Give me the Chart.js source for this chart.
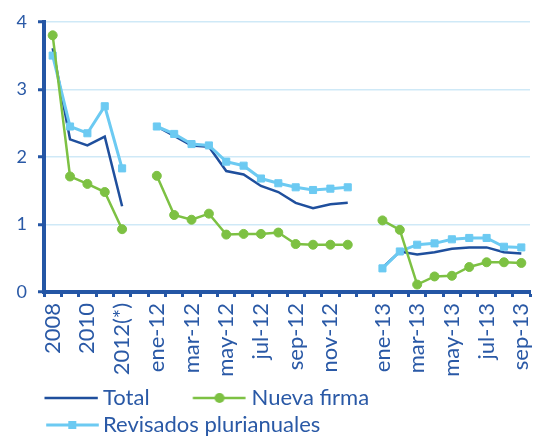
<!DOCTYPE html>
<html>
<head>
<meta charset="utf-8">
<script src="https://cdn.jsdelivr.net/npm/chart.js@4"></script>
<style>
html,body{margin:0;padding:0;background:#fff;overflow:hidden;}
canvas{display:block;}
</style>
</head>
<body>
<canvas id="chart" width="536" height="446"></canvas>
<script>
const categories = ['2008','2009','2010','2011','2012(*)','',
  'ene-12','feb-12','mar-12','abr-12','may-12','jun-12','jul-12','ago-12','sep-12','oct-12','nov-12','dic-12','',
  'ene-13','feb-13','mar-13','abr-13','may-13','jun-13','jul-13','ago-13','sep-13'];
const tickLabels = ['2008','2010','2012(*)','ene-12','mar-12','may-12','jul-12','sep-12','nov-12',
  'ene-13','mar-13','may-13','jul-13','sep-13'];
const seriesNames = ['Total','Nueva firma','Revisados plurianuales'];
const total = [3.61,2.26,2.17,2.30,1.27,null,
  2.45,2.31,2.17,2.15,1.79,1.74,1.57,1.48,1.32,1.24,1.30,1.32,null,
  0.36,0.60,0.555,0.59,0.64,0.66,0.66,0.59,0.57];
const nuevaFirma = [3.80,1.71,1.60,1.48,0.93,null,
  1.72,1.14,1.07,1.16,0.85,0.86,0.86,0.88,0.71,0.70,0.70,0.70,null,
  1.06,0.92,0.11,0.23,0.24,0.37,0.44,0.44,0.43];
const revisados = [3.50,2.45,2.35,2.75,1.83,null,
  2.45,2.34,2.19,2.17,1.93,1.87,1.68,1.61,1.55,1.51,1.53,1.55,null,
  0.35,0.60,0.70,0.72,0.78,0.80,0.80,0.67,0.66];
const yTicks = [0,1,2,3,4];

const NAVY = '#2a59a6';
const AXIS = '#2456a5';
const C_TOTAL = '#1f4f9d';
const C_NUEVA = '#7dc143';
const C_REV = '#6ccaf2';
const GRID = '#cfe9f7';

// legend sample images: line + marker
function sample(color, lw, marker, x0, x1, mx) {
  const cv = document.createElement('canvas');
  cv.width = 120; cv.height = 14;
  const g = cv.getContext('2d');
  g.strokeStyle = color; g.lineWidth = lw;
  g.beginPath(); g.moveTo(x0, 7); g.lineTo(x1, 7); g.stroke();
  g.fillStyle = color;
  if (marker === 'circle') { g.beginPath(); g.arc(mx, 7, 5, 0, Math.PI * 2); g.fill(); }
  if (marker === 'rect') { g.fillRect(mx - 4, 3, 8, 8); }
  return cv;
}
const legendImgs = [
  sample(C_TOTAL, 2.5, null, 55.5, 108.8, 0),
  sample(C_NUEVA, 2.5, 'circle', 55.2, 107.9, 81.9),
  sample(C_REV, 3, 'rect', 57.2, 109.8, 83.3)
];

const FONT = 'Lato, "Open Sans", sans-serif';

new Chart(document.getElementById('chart'), {
  type: 'line',
  data: {
    labels: categories,
    datasets: [
      { label: seriesNames[0], data: total, borderColor: C_TOTAL, backgroundColor: C_TOTAL,
        borderWidth: 2.5, pointRadius: 0, order: 3, tension: 0 },
      { label: seriesNames[1], data: nuevaFirma, borderColor: C_NUEVA, backgroundColor: C_NUEVA,
        borderWidth: 2.5, pointStyle: 'circle', pointRadius: 4.5, pointBorderWidth: 1,
        pointBackgroundColor: C_NUEVA, pointBorderColor: C_NUEVA, order: 1, tension: 0 },
      { label: seriesNames[2], data: revisados, borderColor: C_REV, backgroundColor: C_REV,
        borderWidth: 3, pointStyle: 'rect', pointRadius: 5, pointBorderWidth: 1,
        pointBackgroundColor: C_REV, pointBorderColor: C_REV, order: 2, tension: 0 }
    ]
  },
  options: {
    responsive: false,
    animation: false,
    devicePixelRatio: 1,
    layout: { padding: { top: 20, left: 1, right: 0, bottom: 0 } },
    plugins: {
      tooltip: { enabled: false },
      legend: {
        position: 'bottom',
        align: 'start',
        labels: {
          usePointStyle: true,
          pointStyleWidth: 86,
          padding: 5,
          color: NAVY,
          font: { family: FONT, size: 22 },
          generateLabels: (chart) => seriesNames.map((n, i) => ({
            text: n, fillStyle: 'transparent', strokeStyle: 'transparent', lineWidth: 0,
            pointStyle: legendImgs[i], hidden: false, datasetIndex: i, fontColor: NAVY
          }))
        }
      }
    },
    scales: {
      x: {
        type: 'category',
        offset: true,
        grid: { offset: true, drawOnChartArea: false, drawTicks: true, tickLength: 5,
                tickColor: AXIS, tickWidth: 3 },
        border: { display: true, color: AXIS, width: 4 },
        ticks: {
          autoSkip: false, maxRotation: 90, minRotation: 90, padding: 6,
          color: NAVY, font: { family: FONT, size: 22 },
          callback: function (v, i) { return tickLabels.includes(categories[i]) ? categories[i] : ''; }
        },
        afterFit: (s) => { s.height = 90; s.paddingLeft = 0; s.paddingRight = 0; }
      },
      y: {
        min: 0, max: 4,
        afterBuildTicks: (s) => { s.ticks = yTicks.map(v => ({ value: v })); },
        grid: { color: GRID, lineWidth: 1.5, drawTicks: true, tickLength: 6,
                tickColor: AXIS, tickWidth: 3 },
        border: { display: true, color: AXIS, width: 4 },
        ticks: { padding: 11, color: NAVY, font: { family: FONT, size: 18 } },
        afterFit: (s) => { s.width = 43; }
      }
    }
  }
});
</script>
</body>
</html>
